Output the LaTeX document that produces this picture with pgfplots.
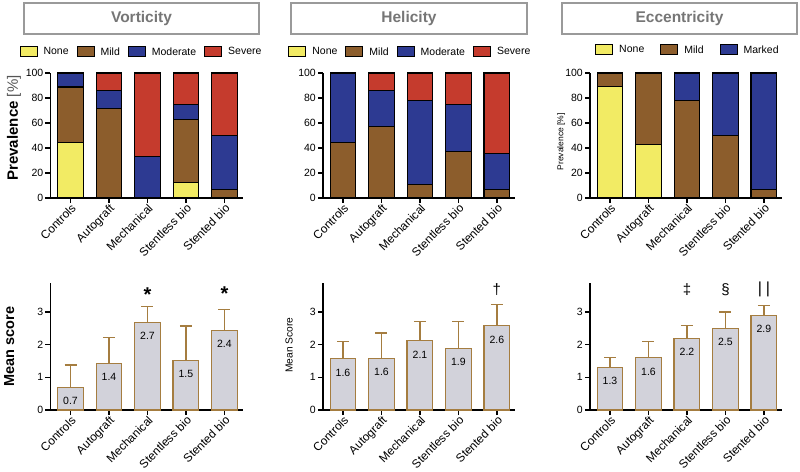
\documentclass[border=0pt]{standalone}
\usepackage{fontspec}
\setmainfont{Liberation Sans}
\usepackage{pgfplots}
\pgfplotsset{compat=1.18}
\definecolor{yel}{HTML}{F2EB64}
\definecolor{brn}{HTML}{8C5D2C}
\definecolor{blu}{HTML}{2D3A92}
\definecolor{rd}{HTML}{C53B2D}
\definecolor{barfill}{HTML}{D2D2DA}
\definecolor{baredge}{HTML}{A57D40}
\definecolor{titlegray}{HTML}{767676}
\definecolor{boxgray}{HTML}{9A9A9A}
\pgfplotsset{
  base/.style={
    scale only axis, width=192pt,
    xmin=-0.52, xmax=4.47,
    xtick={0,1,2,3,4},
    xticklabels={Controls,Autograft,Mechanical,Stentless bio,Stented bio},
    axis lines*=left,
    axis line style={line width=1.6pt,-},
    tick style={line width=1.4pt, black},
    major tick length=5pt,
    tick align=outside,
    xticklabel style={rotate=45, anchor=north east, inner sep=0pt, font=\fontsize{11.8}{12}\selectfont},
    yticklabel style={font=\fontsize{10.5}{12}\selectfont, inner sep=2pt},
    /pgf/number format/assume math mode=true,
    clip=false,
  },
  stk/.style={base, height=125pt, ymin=0, ymax=100, ytick={0,20,...,100},
    ybar stacked, bar width=0.667,
    every axis plot/.append style={draw=black, line width=1.2pt},
    legend style={draw=none, fill=none, legend columns=-1, anchor=center,
      font=\fontsize{10.5}{12}\selectfont,
      /tikz/every odd column/.append style={column sep=4pt},
      /tikz/every even column/.append style={column sep=6pt}},
    legend image code/.code={\draw[#1, draw=black, line width=1pt] (0pt,-4.5pt) rectangle (17pt,5pt);},
  },
  mean/.style={base, height=127pt, ymin=0, ymax=3.89, ytick={0,1,2,3},
    ybar, bar width=0.667,
    error bars/y dir=plus, error bars/y explicit,
    error bars/error bar style={baredge, line width=1.2pt},
    error bars/error mark options={rotate=90, baredge, mark size=6pt, line width=1.2pt},
    nodes near coords={\pgfmathprintnumber[fixed,precision=1,fixed zerofill]{\pgfplotspointmeta}},
    every node near coord/.append style={anchor=north, yshift=-6pt, font=\fontsize{10.5}{12}\selectfont, black},
  },
  mbar/.style={draw=baredge, fill=barfill, line width=1.3pt},
}
\begin{document}
\begin{tikzpicture}
\useasboundingbox (0,0) rectangle (800pt,471pt);
% title boxes
\draw[boxgray, line width=1.3pt, fill=white] (24pt,437pt) rectangle (259pt,468pt);
\node[titlegray, font=\bfseries\fontsize{15.5}{18}\selectfont] at (141.5pt,452.5pt) {Vorticity};
\draw[boxgray, line width=1.3pt, fill=white] (291pt,437pt) rectangle (527pt,468pt);
\node[titlegray, font=\bfseries\fontsize{15.5}{18}\selectfont] at (409pt,452.5pt) {Helicity};
\draw[boxgray, line width=1.3pt, fill=white] (562pt,437pt) rectangle (797pt,468pt);
\node[titlegray, font=\bfseries\fontsize{15.5}{18}\selectfont] at (679.5pt,452.5pt) {Eccentricity};

% ---------- Vorticity prevalence
\begin{axis}[stk, at={(50.5pt,273pt)}, anchor=south west,
  legend style={at={(axis description cs:0.474,1.168)}},
  ylabel={{\bfseries Prevalence} {\color[HTML]{555555}\mdseries[\%]}},
  ylabel style={at={(axis description cs:-0.19,0.56)}, anchor=center, font=\fontsize{15}{16}\selectfont}]
\addplot[fill=yel] coordinates {(0,44.4) (1,0) (2,0) (3,12.5) (4,0)};
\addplot[fill=brn] coordinates {(0,44.4) (1,71.4) (2,0) (3,50) (4,7.1)};
\addplot[fill=blu] coordinates {(0,11.2) (1,14.3) (2,33.3) (3,12.5) (4,42.9)};
\addplot[fill=rd] coordinates {(0,0) (1,14.3) (2,66.7) (3,25) (4,50)};
\legend{None,Mild,Moderate,Severe}
\end{axis}

% ---------- Helicity prevalence
\begin{axis}[stk, at={(323pt,273pt)}, anchor=south west,
  legend style={at={(axis description cs:0.455,1.168)}}]
\addplot[fill=yel] coordinates {(0,0) (1,0) (2,0) (3,0) (4,0)};
\addplot[fill=brn] coordinates {(0,44.4) (1,57.1) (2,11.1) (3,37.5) (4,7.1)};
\addplot[fill=blu] coordinates {(0,55.6) (1,28.6) (2,66.7) (3,37.5) (4,28.6)};
\addplot[fill=rd] coordinates {(0,0) (1,14.3) (2,22.2) (3,25) (4,64.3)};
\legend{None,Mild,Moderate,Severe}
\end{axis}

% ---------- Eccentricity prevalence
\begin{axis}[stk, at={(590pt,273pt)}, anchor=south west,
  legend style={at={(axis description cs:0.51,1.184)},
    /tikz/every even column/.append style={column sep=14pt}},
  ylabel={Prevalence [\%]},
  ylabel style={at={(axis description cs:-0.15,0.45)}, anchor=center, font=\fontsize{8.5}{10}\selectfont}]
\addplot[fill=yel] coordinates {(0,88.9) (1,42.9) (2,0) (3,0) (4,0)};
\addplot[fill=brn] coordinates {(0,11.1) (1,57.1) (2,77.8) (3,50) (4,7.1)};
\addplot[fill=blu] coordinates {(0,0) (1,0) (2,22.2) (3,50) (4,92.9)};
\legend{None,Mild,Marked}
\end{axis}

% ---------- Vorticity mean score
\begin{axis}[mean, at={(50.5pt,61pt)}, anchor=south west,
  ylabel={Mean score},
  ylabel style={at={(axis description cs:-0.215,0.5)}, anchor=center, font=\bfseries\fontsize{14.5}{16}\selectfont}]
\addplot[mbar] coordinates {(0,0.69) +- (0,0.69) (1,1.43) +- (0,0.79) (2,2.68) +- (0,0.49) (3,1.51) +- (0,1.06) (4,2.44) +- (0,0.63)};
\node[font=\bfseries\fontsize{20}{20}\selectfont] at (axis cs:2,3.52) {*};
\node[font=\bfseries\fontsize{20}{20}\selectfont] at (axis cs:4,3.57) {*};
\end{axis}

% ---------- Helicity mean score
\begin{axis}[mean, at={(323pt,61pt)}, anchor=south west,
  ylabel={Mean Score},
  ylabel style={at={(axis description cs:-0.176,0.51)}, anchor=center, font=\fontsize{10.2}{12}\selectfont}]
\addplot[mbar] coordinates {(0,1.57) +- (0,0.52) (1,1.58) +- (0,0.78) (2,2.12) +- (0,0.60) (3,1.88) +- (0,0.84) (4,2.58) +- (0,0.64)};
\node[font=\fontsize{15}{15}\selectfont] at (axis cs:4,3.69) {†};
\end{axis}

% ---------- Eccentricity mean score
\begin{axis}[mean, at={(590pt,61pt)}, anchor=south west]
\addplot[mbar] coordinates {(0,1.30) +- (0,0.30) (1,1.60) +- (0,0.50) (2,2.20) +- (0,0.40) (3,2.50) +- (0,0.50) (4,2.90) +- (0,0.30)};
\node[font=\fontsize{15}{15}\selectfont] at (axis cs:2,3.69) {‡};
\node[font=\fontsize{15}{15}\selectfont] at (axis cs:3,3.69) {§};
\node[font=\fontsize{16}{16}\selectfont] at (axis cs:4,3.69) {|\hspace{4pt}|};
\end{axis}
\end{tikzpicture}
\end{document}
